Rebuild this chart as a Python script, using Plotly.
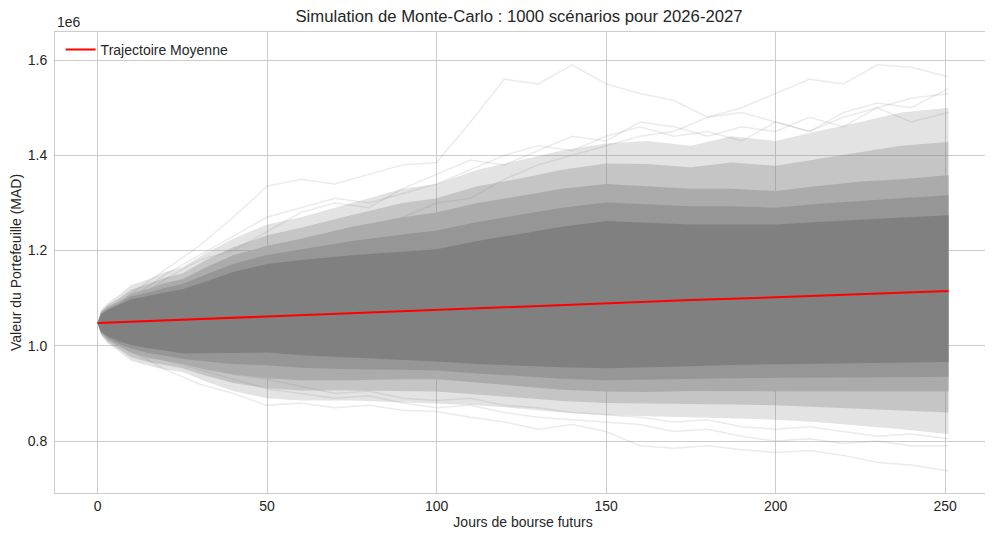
import plotly.graph_objects as go

# valeurs en millions de MAD
days = [0, 1, 3, 6, 10, 15, 20, 25, 32, 40, 50, 60, 75, 90, 100, 112, 125,
        137, 150, 162, 175, 187, 200, 212, 225, 237, 251]

light_hi = [1.048, 1.075, 1.090, 1.105, 1.128, 1.140, 1.155, 1.165, 1.195, 1.225, 1.255, 1.270, 1.300, 1.330,
            1.340, 1.370, 1.390, 1.410, 1.425, 1.430, 1.420, 1.440, 1.430, 1.450, 1.470, 1.490, 1.500]
light_lo = [1.048, 1.022, 1.005, 0.990, 0.968, 0.958, 0.950, 0.945, 0.925, 0.905, 0.890, 0.885, 0.885, 0.880,
            0.878, 0.875, 0.868, 0.860, 0.855, 0.852, 0.850, 0.848, 0.845, 0.840, 0.832, 0.825, 0.815]
outer_hi = [1.048, 1.072, 1.086, 1.098, 1.118, 1.130, 1.143, 1.152, 1.180, 1.207, 1.232, 1.248, 1.275, 1.300,
            1.310, 1.335, 1.352, 1.370, 1.383, 1.382, 1.375, 1.385, 1.378, 1.392, 1.407, 1.420, 1.428]
outer_lo = [1.048, 1.025, 1.008, 0.995, 0.976, 0.966, 0.959, 0.953, 0.937, 0.922, 0.911, 0.906, 0.906, 0.905,
            0.904, 0.898, 0.891, 0.884, 0.880, 0.878, 0.878, 0.877, 0.875, 0.872, 0.868, 0.864, 0.860]
mid_hi = [1.048, 1.070, 1.082, 1.092, 1.110, 1.120, 1.132, 1.140, 1.165, 1.190, 1.210, 1.225, 1.250, 1.270,
          1.280, 1.300, 1.315, 1.330, 1.340, 1.335, 1.330, 1.330, 1.325, 1.335, 1.345, 1.350, 1.358]
mid_lo = [1.048, 1.027, 1.012, 1.000, 0.985, 0.975, 0.968, 0.962, 0.950, 0.940, 0.932, 0.928, 0.928, 0.930,
          0.930, 0.922, 0.915, 0.908, 0.904, 0.903, 0.905, 0.905, 0.905, 0.905, 0.905, 0.904, 0.904]
inner_hi = [1.048, 1.068, 1.078, 1.088, 1.104, 1.112, 1.122, 1.130, 1.150, 1.172, 1.191, 1.203, 1.220, 1.234,
            1.242, 1.260, 1.275, 1.290, 1.301, 1.297, 1.293, 1.293, 1.290, 1.298, 1.305, 1.310, 1.316]
inner_lo = [1.048, 1.029, 1.016, 1.005, 0.994, 0.985, 0.979, 0.973, 0.967, 0.962, 0.959, 0.954, 0.951, 0.950,
            0.948, 0.942, 0.936, 0.931, 0.928, 0.929, 0.931, 0.932, 0.933, 0.934, 0.934, 0.934, 0.935]
core_hi = [1.048, 1.066, 1.075, 1.085, 1.098, 1.105, 1.112, 1.119, 1.135, 1.155, 1.172, 1.180, 1.190, 1.198,
           1.203, 1.220, 1.235, 1.250, 1.262, 1.258, 1.255, 1.255, 1.255, 1.260, 1.265, 1.270, 1.274]
core_lo = [1.048, 1.030, 1.020, 1.010, 1.002, 0.995, 0.990, 0.984, 0.984, 0.985, 0.986, 0.980, 0.975, 0.970,
           0.967, 0.962, 0.958, 0.955, 0.953, 0.955, 0.957, 0.960, 0.962, 0.963, 0.964, 0.965, 0.966]

# quelques trajectoires extremes visibles
path_days = [0, 10, 20, 30, 40, 50, 60, 70, 80, 90, 100, 110, 120, 130, 140, 150,
             160, 170, 180, 190, 200, 210, 220, 230, 240, 251]
path_a = [1.048, 1.11, 1.16, 1.21, 1.27, 1.335, 1.35, 1.34, 1.36, 1.38, 1.385, 1.47, 1.56, 1.55, 1.59, 1.55,
          1.53, 1.515, 1.48, 1.49, 1.47, 1.45, 1.48, 1.50, 1.47, 1.49]
path_b = [1.048, 1.08, 1.10, 1.12, 1.14, 1.17, 1.19, 1.22, 1.24, 1.27, 1.30, 1.31, 1.35, 1.38, 1.40, 1.42,
          1.44, 1.45, 1.48, 1.50, 1.53, 1.56, 1.55, 1.59, 1.585, 1.565]
path_c = [1.048, 1.09, 1.14, 1.18, 1.20, 1.24, 1.28, 1.30, 1.29, 1.33, 1.36, 1.39, 1.38, 1.41, 1.44, 1.43,
          1.47, 1.46, 1.44, 1.46, 1.45, 1.48, 1.46, 1.50, 1.52, 1.53]
path_g = [1.048, 1.10, 1.15, 1.19, 1.23, 1.27, 1.29, 1.31, 1.30, 1.32, 1.34, 1.37, 1.40, 1.42, 1.41, 1.44,
          1.46, 1.44, 1.45, 1.43, 1.47, 1.45, 1.49, 1.51, 1.50, 1.54]
path_d = [1.048, 0.99, 0.95, 0.92, 0.90, 0.875, 0.88, 0.87, 0.875, 0.865, 0.862, 0.85, 0.84, 0.825, 0.835, 0.82,
          0.79, 0.785, 0.79, 0.782, 0.776, 0.78, 0.77, 0.755, 0.75, 0.737]
path_e = [1.048, 1.00, 0.97, 0.95, 0.93, 0.91, 0.90, 0.89, 0.895, 0.88, 0.87, 0.875, 0.86, 0.85, 0.845, 0.84,
          0.835, 0.82, 0.825, 0.81, 0.80, 0.805, 0.795, 0.80, 0.79, 0.79]
path_f = [1.048, 1.01, 0.98, 0.96, 0.94, 0.93, 0.915, 0.90, 0.905, 0.89, 0.885, 0.89, 0.875, 0.87, 0.86, 0.855,
          0.85, 0.84, 0.845, 0.83, 0.825, 0.83, 0.82, 0.81, 0.815, 0.805]

mean_days = [0, 25, 50, 75, 100, 125, 150, 175, 200, 225, 251]
mean_path = [1.048, 1.055, 1.062, 1.069, 1.076, 1.083, 1.090, 1.096, 1.102, 1.108, 1.115]

y_ticks = [0.8, 1.0, 1.2, 1.4, 1.6]


def mad(vals):
    return [v * 1e6 for v in vals]


fig = go.Figure()

for p in [path_a, path_b, path_c, path_g, path_d, path_e, path_f]:
    fig.add_trace(go.Scatter(x=path_days, y=mad(p), mode='lines',
                             line=dict(color='rgba(128,128,128,0.16)', width=1.5),
                             showlegend=False, hoverinfo='skip'))

bands = [(light_hi, light_lo, 'rgba(128,128,128,0.22)'),
         (outer_hi, outer_lo, 'rgba(128,128,128,0.30)'),
         (mid_hi, mid_lo, '#ababab'),
         (inner_hi, inner_lo, '#969696'),
         (core_hi, core_lo, '#808080')]
for hi, lo, col in bands:
    fig.add_trace(go.Scatter(x=days + days[::-1], y=mad(hi + lo[::-1]),
                             mode='lines', fill='toself', fillcolor=col,
                             line=dict(width=0), showlegend=False, hoverinfo='skip'))

fig.add_trace(go.Scatter(x=mean_days, y=mad(mean_path), mode='lines',
                         name='Trajectoire Moyenne', line=dict(color='red', width=2)))

# la page ajoute 8 px de marge au body : on compense
fig.update_layout(
    width=985, height=532,
    margin=dict(l=47, r=2, t=24, b=47),
    paper_bgcolor='white', plot_bgcolor='white',
    font=dict(family='Liberation Sans, Arial, sans-serif', size=14, color='#262626'),
    title=dict(text='Simulation de Monte-Carlo : 1000 scénarios pour 2026-2027',
               x=0.5188, xanchor='center', y=0.985, yanchor='middle',
               font=dict(size=16.7)),
    legend=dict(x=0.006, y=0.996, xanchor='left', yanchor='top',
                bgcolor='rgba(0,0,0,0)', font=dict(size=14)),
    annotations=[dict(text='1e6', xref='paper', yref='paper', x=0, y=1.0,
                      xanchor='left', yanchor='bottom', showarrow=False,
                      font=dict(size=14))],
)
fig.update_xaxes(range=[-12.55, 263.55], tickvals=[0, 50, 100, 150, 200, 250],
                 showgrid=True, gridcolor='#cccccc', zeroline=False,
                 showline=True, linecolor='#cccccc', mirror=True, automargin=False,
                 tickfont=dict(size=14),
                 title=dict(text='Jours de bourse futurs', standoff=4, font=dict(size=14)))
fig.update_yaxes(range=[0.691e6, 1.659e6], tickvals=mad(y_ticks),
                 ticktext=['%.1f' % t for t in y_ticks],
                 showgrid=True, gridcolor='#cccccc', zeroline=False,
                 showline=True, linecolor='#cccccc', mirror=True, automargin=False,
                 tickfont=dict(size=14), ticklabelstandoff=4,
                 title=dict(text='Valeur du Portefeuille (MAD)', standoff=2, font=dict(size=14)))

fig.write_html("out.html")
